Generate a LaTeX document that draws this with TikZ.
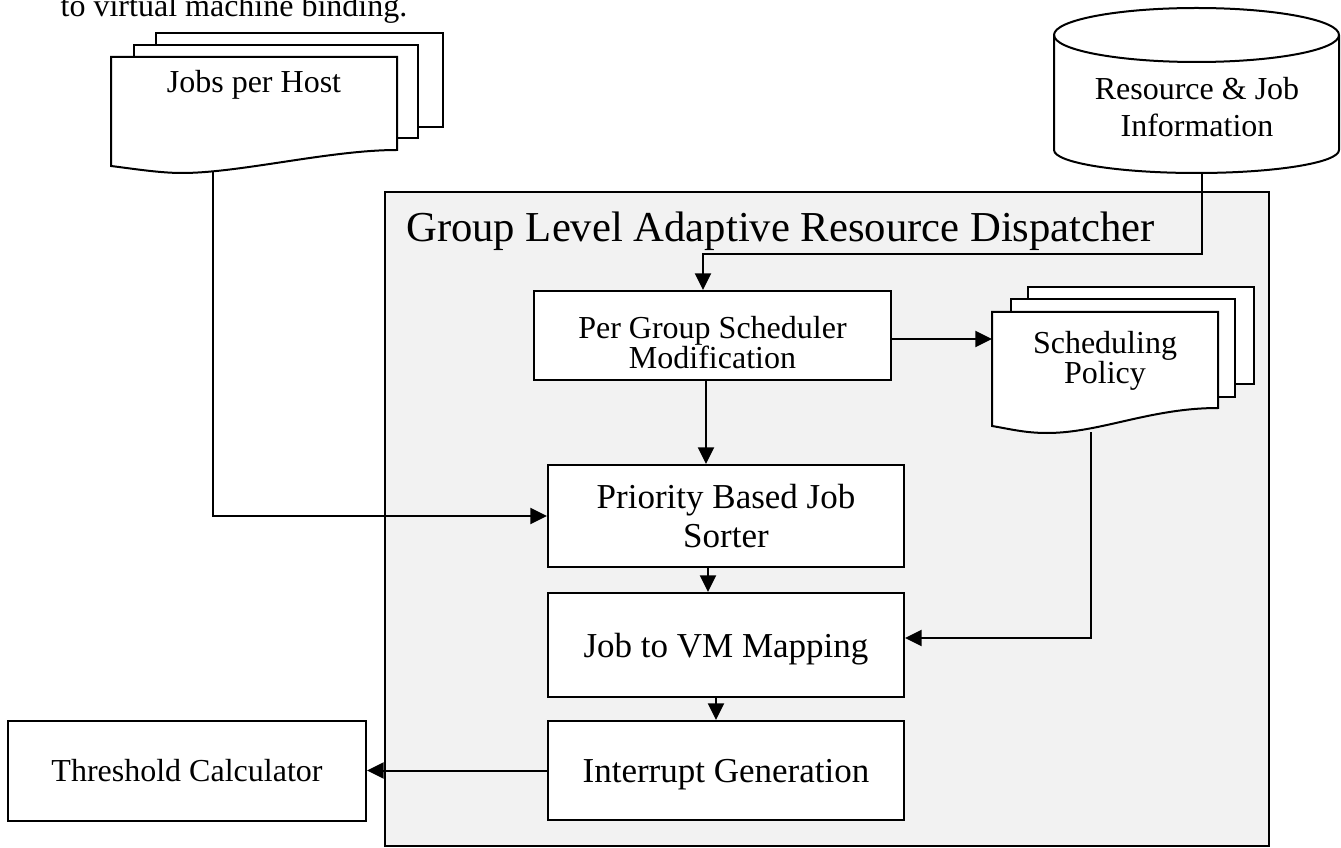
\documentclass[tikz,border=0pt]{standalone}
\usepackage{fontspec}
\setmainfont{Liberation Serif}
\usetikzlibrary{arrows.meta}
\definecolor{panel}{HTML}{F2F2F2}

\tikzset{
  outline/.style={draw=black, line width=1.5pt},
  procbox/.style={outline, fill=white, inner sep=0pt, align=center},
  smalltext/.style={font=\fontsize{24}{21.75}\selectfont},
  dbtext/.style={font=\fontsize{24}{27.75}\selectfont},
  midtext/.style={font=\fontsize{26.25}{29.25}\selectfont},
  titletext/.style={font=\fontsize{32}{36}\selectfont},
  link/.style={line width=1.5pt, -{Triangle[length=12.5pt,width=12pt]}},
  page/.style={outline, fill=white, line join=miter},
}

\begin{document}
\begin{tikzpicture}[x=0.75pt, y=-0.75pt]
  \useasboundingbox (0,0) rectangle (1341,848);

  % caption line running in from above
  \node[smalltext, anchor=base, inner sep=0pt] (caption) at (234,17) {to virtual machine binding.};

  % dispatcher panel
  \node[outline, fill=panel, inner sep=0pt, minimum width=663pt, minimum height=490.5pt] (panel) at (827,519) {};
  \node[titletext, anchor=base west, inner sep=0pt] (title) at (406,242)
    {Group Level Adaptive Resource Dispatcher};

  % stacked documents: jobs per host
  \draw[page] (156,33) rectangle (443,127);
  \draw[page] (134,45) rectangle (418,138);
  \draw[page] (111,57) -- (397,57) -- (397,150)
     .. controls (330,150) and (240,173) .. (182,173)
     .. controls (160,173) and (135,169) .. (111,166) -- cycle;
  \node[smalltext, anchor=base, inner sep=0pt] (jobs) at (254,93) {Jobs per Host};
  \coordinate (jobsout) at (213,172);

  % database cylinder
  \draw[outline, fill=white] (1054,35) -- (1054,150)
     arc[start angle=180, end angle=360, x radius=106.875pt, y radius=17.25pt]
     -- (1339,35)
     arc[start angle=0, end angle=180, x radius=106.875pt, y radius=20.25pt] -- cycle;
  \draw[outline] (1054,35) arc[start angle=180, end angle=360, x radius=106.875pt, y radius=20.25pt];
  \node[dbtext, align=center, inner sep=0pt] (db) at (1197,107.5) {Resource \& Job\\Information};
  \coordinate (dbout) at (1202,173);

  % stacked documents: scheduling policy
  \draw[page] (1028,287) rectangle (1254,384);
  \draw[page] (1011,299) rectangle (1235,397);
  \draw[page] (992,312) -- (1218,312) -- (1218,408)
     .. controls (1150,408) and (1100,433) .. (1047,433)
     .. controls (1025,433) and (1010,429) .. (992,426) -- cycle;
  \node[smalltext, align=center, inner sep=0pt] (sched) at (1105,361) {Scheduling\\Policy};
  \coordinate (schedin) at (992,339);
  \coordinate (schedout) at (1091,432);

  % process boxes
  \node[procbox, smalltext, minimum width=267.75pt, minimum height=66.75pt] (pgsm) at (712.5,335.5)
    {\rule{0pt}{27pt}Per Group Scheduler\\Modification};
  \node[procbox, midtext, minimum width=267pt, minimum height=76.5pt] (prio) at (726,516)
    {Priority Based Job\\Sorter};
  \node[procbox, midtext, text depth=0pt, minimum width=267pt, minimum height=78pt] (jobvm) at (726,645)
    {Job to VM Mapping};
  \node[procbox, midtext, text depth=0pt, minimum width=267pt, minimum height=74.25pt] (intr) at (726,770.5)
    {Interrupt Generation};
  \node[procbox, smalltext, text depth=0pt, minimum width=268.5pt, minimum height=75pt] (thresh) at (187,770.5)
    {Threshold Calculator};

  % connectors
  \draw[link] (dbout) -- (dbout |- 0,254) -| (pgsm.north -| 703,0);
  \draw[link] (pgsm.east |- schedin) -- (schedin);
  \draw[link] (pgsm.south -| 706,0) -- (prio.north -| 706,0);
  \draw[link] (jobsout) |- (prio.west);
  \draw[link] (prio.south -| 708,0) -- (jobvm.north -| 708,0);
  \draw[link] (schedout) |- (jobvm.east |- 0,638);
  \draw[link] (jobvm.south -| 716,0) -- (intr.north -| 716,0);
  \draw[link] (intr.west) -- (thresh.east);
\end{tikzpicture}
\end{document}
